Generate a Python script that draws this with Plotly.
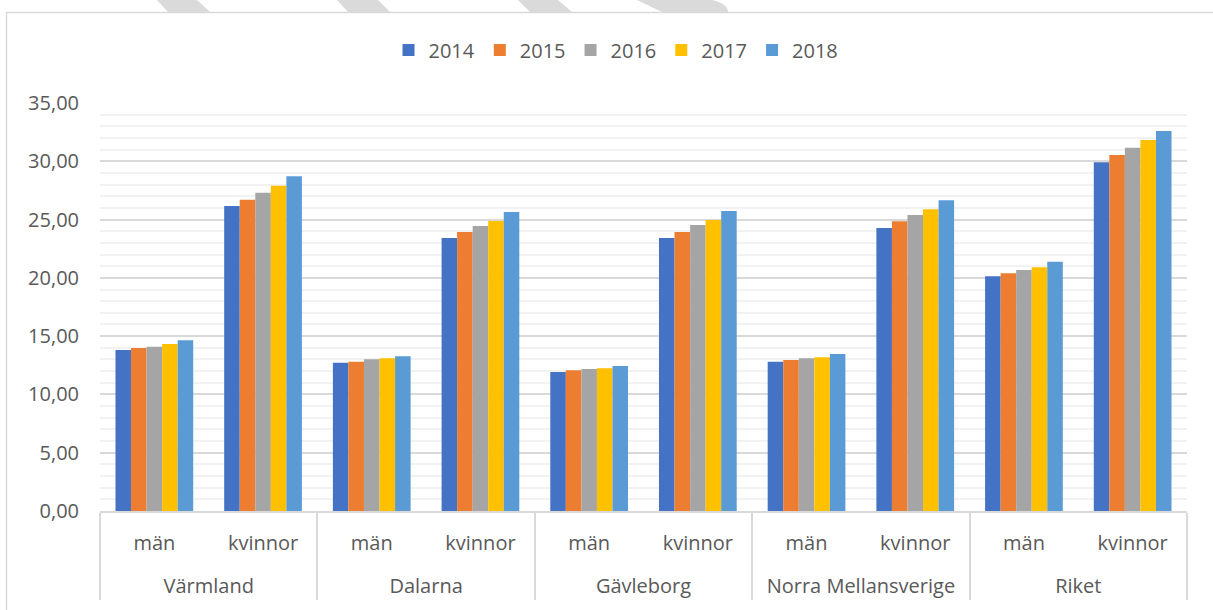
import plotly.graph_objects as go

# data
regions = ["Värmland", "Dalarna", "Gävleborg", "Norra Mellansverige", "Riket"]
sexes = ["män", "kvinnor"]
years = ["2014", "2015", "2016", "2017", "2018"]

v2014 = [13.81, 26.16, 12.72, 23.42, 11.92, 23.42, 12.81, 24.28, 20.13, 29.91]
v2015 = [13.98, 26.71, 12.81, 23.93, 12.07, 23.93, 12.95, 24.85, 20.39, 30.54]
v2016 = [14.10, 27.31, 13.01, 24.45, 12.18, 24.53, 13.10, 25.39, 20.67, 31.17]
v2017 = [14.33, 27.91, 13.10, 24.88, 12.24, 24.96, 13.19, 25.88, 20.90, 31.83]
v2018 = [14.64, 28.71, 13.27, 25.65, 12.44, 25.74, 13.47, 26.65, 21.39, 32.60]

colors = ["#4472C4", "#ED7D31", "#A5A5A5", "#FFC000", "#5B9BD5"]

# inre etikett får en tom rad under sig så att regionraden hamnar längre ner
spacer = "<br><span style='font-size:24px'> </span>"
x_outer = [r for r in regions for s in sexes]
x_inner = [s + spacer for r in regions for s in sexes]

W, H = 1213, 610
ML, MR, MT, MB = 100, 26, 103, 99
PW, PH = W - ML - MR, H - MT - MB


def px(x):
    return (x - ML) / PW


def py(y):
    return (H - MB - y) / PH


fig = go.Figure()
for yr, vals, col in zip(years, [v2014, v2015, v2016, v2017, v2018], colors):
    fig.add_trace(go.Bar(x=[x_outer, x_inner], y=vals, name=yr,
                         marker=dict(color=col, line=dict(width=0))))

# grå diagonala ränder överst + ram runt diagrammet
stripes = [
    [(157, 0), (197, 0), (210, 12), (168, 12)],
    [(337, 0), (378, 0), (390, 12), (348, 12)],
    [(518, 0), (558, 0), (572, 12), (530, 12)],
]
shapes = []
for s in stripes:
    path = "M " + " L ".join("{:.4f},{:.4f}".format(px(a), py(b)) for a, b in s) + " Z"
    shapes.append(dict(type="path", xref="paper", yref="paper", path=path,
                       fillcolor="#DADADA", line=dict(width=0), layer="below"))
# rounded last stripe
p4 = "M {:.4f},{:.4f} L {:.4f},{:.4f} Q {:.4f},{:.4f} {:.4f},{:.4f} L {:.4f},{:.4f} Z".format(
    px(637), py(0), px(712), py(0), px(728), py(4), px(728), py(12), px(662), py(12))
shapes.append(dict(type="path", xref="paper", yref="paper", path=p4,
                   fillcolor="#DADADA", line=dict(width=0), layer="below"))
shapes.append(dict(type="rect", xref="paper", yref="paper",
                   x0=px(6.5), y0=py(12.5), x1=px(1225), y1=py(625),
                   line=dict(color="#D9D9D9", width=1.5), fillcolor="rgba(0,0,0,0)",
                   layer="below"))

font_family = "'Open Sans', Lato, sans-serif"
fig.update_layout(
    width=W, height=H,
    margin=dict(l=ML, r=MR, t=MT, b=MB),
    paper_bgcolor="white", plot_bgcolor="white",
    barmode="group", bargap=0.285, bargroupgap=0,
    separators=", ",
    font=dict(family=font_family, size=20, color="#595959"),
    legend=dict(orientation="h", x=px(616), xanchor="center", y=py(50), yanchor="middle",
                font=dict(size=20, color="#595959"), itemwidth=30, tracegroupgap=0,
                bgcolor="rgba(0,0,0,0)"),
    shapes=shapes,
    xaxis=dict(type="multicategory", showgrid=False, showline=True, linecolor="#D9D9D9",
               linewidth=1.5, ticks="", showdividers=True, dividercolor="#D9D9D9",
               dividerwidth=1.5, ticklabelstandoff=13,
               tickfont=dict(size=20, color="#595959")),
    yaxis=dict(range=[0, 35], dtick=5, tickformat=".2f", showgrid=True,
               gridcolor="#D9D9D9", gridwidth=1.5, zeroline=False, showline=False,
               ticks="", ticklabelstandoff=20, tickfont=dict(size=20, color="#595959"),
               minor=dict(dtick=1, showgrid=True, gridcolor="#F2F2F2", gridwidth=1.5)),
)

fig.write_html("out.html", config={"displayModeBar": False},
               post_script="document.body.style.margin='0';")
